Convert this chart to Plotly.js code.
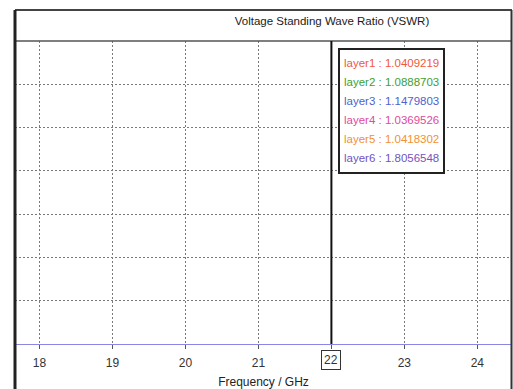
<!DOCTYPE html>
<html>
<head>
<meta charset="utf-8">
<script src="https://cdn.plot.ly/plotly-3.0.1.min.js"></script>
<style>
html,body{margin:0;padding:0;background:#fff;}
#chart{width:513px;height:389px;}
</style>
</head>
<body>
<div id="chart"></div>
<script>
// ---- data ----
const chartTitle = "Voltage Standing Wave Ratio (VSWR)";
const xTitle = "Frequency / GHz";
const freqTicks = [18, 19, 20, 21, 22, 23, 24];
const markerFreq = 22;
const layerNames = ["layer1", "layer2", "layer3", "layer4", "layer5", "layer6"];
const layerValues = ["1.0409219", "1.0888703", "1.1479803", "1.0369526", "1.0418302", "1.8056548"];
const layerColors = ["#f0583a", "#3e9e34", "#4f62cc", "#e04a9c", "#f39030", "#7452c2"];

// ---- geometry helpers (pixel -> paper) ----
const W = 513, H = 389;
const mL = 15, mR = 1, mT = 41, mB = 45;
const plotW = W - mL - mR, plotH = H - mT - mB;
const px = p => (p - mL) / plotW;
const py = p => (H - mB - p) / plotH;

const font = "Liberation Sans, Arial, sans-serif";

const annotations = [];
layerNames.forEach((n, i) => {
  annotations.push({
    xref: "paper", yref: "paper",
    x: px(342), y: py(63.5 + 18.8 * i),
    xanchor: "left", yanchor: "middle",
    text: n + " : " + layerValues[i],
    showarrow: false,
    font: {family: font, size: 11.5, color: layerColors[i]}
  });
});
// boxed marker label replaces the plain tick label at the marker frequency
annotations.push({
  xref: "x", yref: "paper",
  x: markerFreq, y: py(360),
  xanchor: "center", yanchor: "middle",
  text: String(markerFreq),
  showarrow: false,
  bgcolor: "#ffffff", bordercolor: "#333", borderwidth: 1, borderpad: 2,
  font: {family: font, size: 12, color: "#333"}
});

const shapes = [
  // outer frame top
  {type: "line", xref: "paper", yref: "paper", x0: 0, x1: 1, y0: py(10), y1: py(10), line: {color: "#444", width: 2}},
  // title bar separator
  {type: "line", xref: "paper", yref: "paper", x0: 0, x1: 1, y0: 1, y1: 1, line: {color: "#555", width: 1.5}},
  // left frame
  {type: "line", xref: "paper", yref: "paper", x0: 0, x1: 0, y0: py(389), y1: py(10), line: {color: "#222", width: 3}},
  // right frame
  {type: "line", xref: "paper", yref: "paper", x0: px(511.5), x1: px(511.5), y0: py(389), y1: py(10), line: {color: "#333", width: 2}},
  // marker line
  {type: "line", xref: "x", yref: "paper", x0: markerFreq, x1: markerFreq, y0: 0, y1: 1, line: {color: "#111", width: 2}},
  // legend box
  {type: "rect", xref: "paper", yref: "paper", x0: px(339), x1: px(444), y0: py(173), y1: py(49),
   line: {color: "#222", width: 2}, fillcolor: "#ffffff"}
];

const layout = {
  width: W, height: H,
  margin: {l: mL, r: mR, t: mT, b: mB, pad: 0},
  paper_bgcolor: "#ffffff", plot_bgcolor: "#ffffff",
  showlegend: false,
  title: {
    text: chartTitle,
    x: 332 / W, xanchor: "center", xref: "container",
    y: 1 - 21 / H, yanchor: "middle", yref: "container",
    font: {family: font, size: 11.5, color: "#1a1a1a"}
  },
  xaxis: {
    range: [17.664, 24.475],
    tickvals: freqTicks, ticktext: freqTicks.map(v => v === markerFreq ? "" : String(v)),
    showgrid: true, gridcolor: "#7a7a7a", griddash: "2px,2px", gridwidth: 1,
    zeroline: false,
    showline: true, linecolor: "#8a86e6", linewidth: 1,
    ticks: "outside", ticklen: 4, tickcolor: "#555", tickwidth: 1,
    ticklabelstandoff: 4,
    tickfont: {family: font, size: 12, color: "#333"},
    title: {text: xTitle, font: {family: font, size: 12, color: "#222"}, standoff: 8},
    fixedrange: true
  },
  yaxis: {
    range: [1, 8], dtick: 1, tick0: 1,
    showgrid: true, gridcolor: "#7a7a7a", griddash: "2px,2px", gridwidth: 1,
    zeroline: false, showline: false, showticklabels: false, ticks: "",
    fixedrange: true
  },
  shapes: shapes,
  annotations: annotations
};

const traces = [{
  x: [markerFreq], y: [null], type: "scatter", mode: "lines", hoverinfo: "skip"
}];

Plotly.newPlot("chart", traces, layout, {displayModeBar: false, staticPlot: true});
</script>
</body>
</html>
